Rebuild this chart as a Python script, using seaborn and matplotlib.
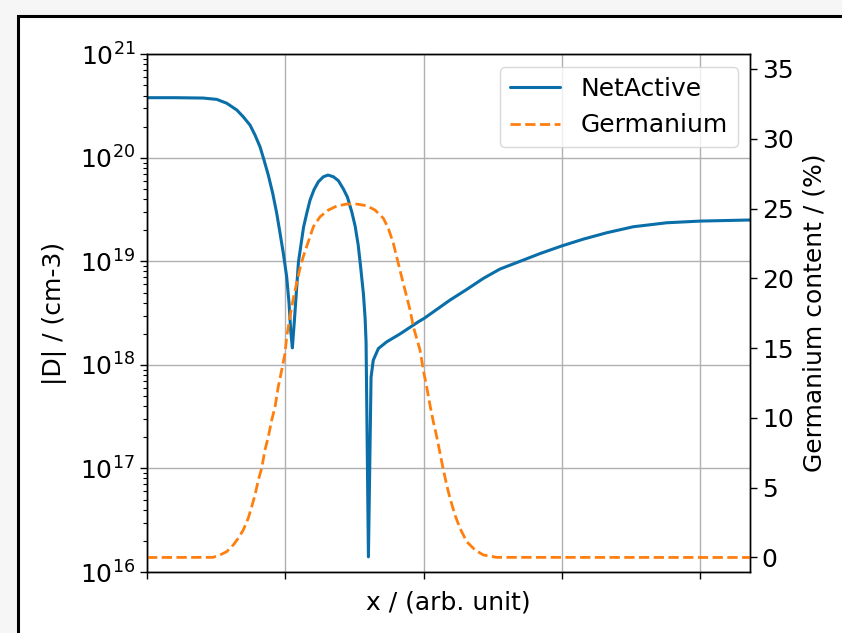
import matplotlib
matplotlib.use("Agg")
import matplotlib.pyplot as plt
import seaborn as sns
import pandas as pd
from matplotlib.patches import Rectangle

# ---- data (x in arbitrary units, tick spacing 1) ----
x_net = [0.000, 0.202, 0.405, 0.504, 0.576, 0.649, 0.696, 0.745, 0.781, 0.817,
         0.846, 0.877, 0.909, 0.938, 0.962, 0.986, 1.010, 1.027, 1.039, 1.051,
         1.066, 1.081, 1.095, 1.114, 1.132, 1.157, 1.179, 1.208, 1.239, 1.275,
         1.309, 1.348, 1.384, 1.420, 1.449, 1.481, 1.505, 1.527, 1.544, 1.565,
         1.577, 1.584, 1.601, 1.620, 1.636, 1.673, 1.733, 1.829, 1.962, 2.003,
         2.191, 2.312, 2.432, 2.552, 2.721, 2.842, 2.999, 3.155, 3.324, 3.516,
         3.758, 3.999, 4.360]
net_active = [3.81e20, 3.81e20, 3.78e20, 3.67e20, 3.37e20, 2.90e20, 2.49e20, 2.07e20, 1.66e20, 1.28e20,
              9.53e19, 6.82e19, 4.54e19, 2.91e19, 1.87e19, 1.19e19, 7.10e18, 3.95e18, 2.17e18, 1.46e18,
              2.71e18, 5.28e18, 9.84e18, 1.47e19, 2.14e19, 2.99e19, 3.91e19, 4.94e19, 5.87e19, 6.56e19,
              6.82e19, 6.56e19, 6.01e19, 5.00e19, 4.18e19, 2.99e19, 2.19e19, 1.44e19, 9.02e18, 4.83e18,
              2.83e18, 1.66e18, 1.40e16, 7.62e17, 1.11e18, 1.44e18, 1.67e18, 1.99e18, 2.61e18, 2.81e18,
              4.23e18, 5.36e18, 6.85e18, 8.43e18, 1.03e19, 1.19e19, 1.41e19, 1.64e19, 1.89e19, 2.16e19,
              2.36e19, 2.45e19, 2.51e19]

x_ge = [0.000, 0.477, 0.528, 0.576, 0.624, 0.660, 0.696, 0.732, 0.757, 0.781,
        0.805, 0.829, 0.853, 0.877, 0.902, 0.926, 0.949, 0.974, 0.998, 1.010,
        1.034, 1.058, 1.082, 1.106, 1.130, 1.166, 1.203, 1.251, 1.311, 1.372,
        1.444, 1.516, 1.589, 1.649, 1.709, 1.745, 1.781, 1.805, 1.829, 1.853,
        1.878, 1.902, 1.926, 1.974, 1.998, 2.022, 2.046, 2.070, 2.095, 2.119,
        2.143, 2.167, 2.191, 2.227, 2.263, 2.312, 2.372, 2.432, 2.529, 4.360]
germanium = [0.00, 0.01, 0.18, 0.42, 0.90, 1.38, 1.97, 2.81, 3.64, 4.48,
             5.55, 6.39, 7.70, 8.65, 9.85, 10.80, 12.23, 13.43, 14.63, 15.82,
             17.25, 18.57, 19.64, 20.72, 21.55, 22.62, 23.70, 24.41, 24.89, 25.18,
             25.32, 25.32, 25.20, 24.89, 24.30, 23.58, 22.51, 21.55, 20.59, 19.64,
             18.68, 17.73, 16.53, 14.86, 13.43, 12.23, 10.92, 9.73, 8.65, 7.46,
             6.27, 5.19, 4.24, 3.04, 2.09, 1.13, 0.54, 0.18, 0.01, 0.00]

x_ticks = [0, 1, 2, 3, 4]
ge_ticks = [0, 5, 10, 15, 20, 25, 30, 35]

df_net = pd.DataFrame({"x": x_net, "D": net_active})
df_ge = pd.DataFrame({"x": x_ge, "Ge": germanium})

sns.set_style("ticks")
plt.rcParams["font.family"] = ["DejaVu Sans"]
for k in ["text.color", "axes.labelcolor", "xtick.color", "ytick.color", "axes.edgecolor"]:
    plt.rcParams[k] = "black"
FS = 18

fig = plt.figure(figsize=(8.42, 6.33), dpi=100, facecolor="#f6f6f6")
fig.patches.append(Rectangle((18.3 / 842, -0.1), 1.2, 1.1 - 16 / 633,
                             transform=fig.transFigure, facecolor="white",
                             edgecolor="black", linewidth=2.2, zorder=-10))

ax = fig.add_axes([147 / 842, 1 - 572 / 633, (750 - 147) / 842, (572 - 54.3) / 633])
ax.set_facecolor("white")
ax.set_yscale("log")
sns.lineplot(data=df_net, x="x", y="D", ax=ax, color="#0a6ea8",
             linewidth=2.2, label="NetActive", legend=False)
ax.set_xlim(0, 4.36)
ax.set_ylim(1e16, 1e21)
ax.set_xticks(x_ticks)
ax.set_xticklabels([])
ax.grid(True, which="major", color="#b0b0b0", linewidth=1.0)
ax.set_xlabel("x / (arb. unit)", fontsize=FS, labelpad=5)
ax.set_ylabel("|D| / (cm-3)", fontsize=FS, labelpad=9)
ax.tick_params(axis="both", which="major", labelsize=FS, length=5, width=1.0, color="black")
ax.tick_params(axis="y", which="minor", length=3, width=0.8, color="black")
for s in ax.spines.values():
    s.set_color("black")
    s.set_linewidth(1.0)

ax2 = ax.twinx()
sns.lineplot(data=df_ge, x="x", y="Ge", ax=ax2, color="#ff7f0e",
             linewidth=2.0, linestyle="--", label="Germanium", legend=False)
ax2.set_ylim(-1.04, 36.05)
ax2.set_yticks(ge_ticks)
ax2.set_ylabel("Germanium content / (%)", fontsize=FS, labelpad=6)
ax2.tick_params(axis="y", labelsize=FS, length=5, width=1.0, color="black")
for s in ax2.spines.values():
    s.set_color("black")
    s.set_linewidth(1.0)

h1, lab1 = ax.get_legend_handles_labels()
h2, lab2 = ax2.get_legend_handles_labels()
leg = ax2.legend(h1 + h2, lab1 + lab2, loc="upper right", fontsize=FS, frameon=True)
leg.get_frame().set_edgecolor("#d0d0d0")

fig.savefig("out.png", dpi=100, facecolor=fig.get_facecolor())
